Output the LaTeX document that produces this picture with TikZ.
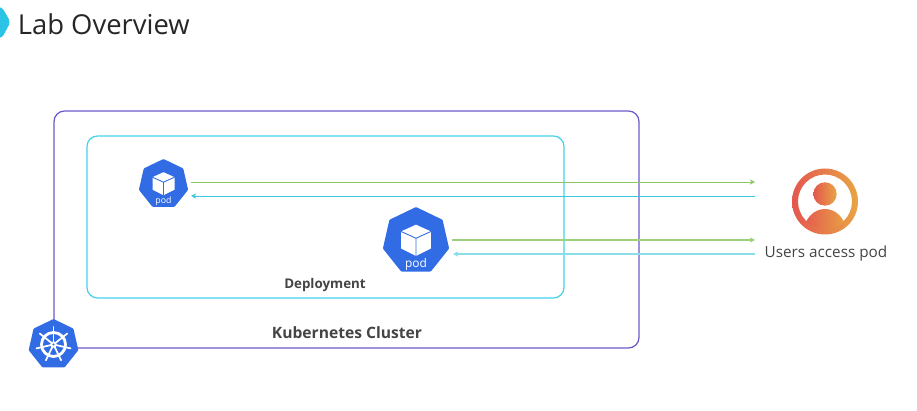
\documentclass[tikz,border=0pt]{standalone}
\usepackage{fontspec}
\setmainfont{Open Sans}
\usetikzlibrary{shapes.geometric, arrows.meta, positioning, calc}
\definecolor{kubeblue}{HTML}{326CE5}
\definecolor{clusterpurple}{HTML}{6E57C9}
\definecolor{deploycyan}{HTML}{45D3E8}
\definecolor{blobcyan}{HTML}{2BC4E6}
\definecolor{linegreen}{HTML}{8CC864}
\definecolor{linecyan}{HTML}{3FC6DC}
\definecolor{usered}{HTML}{E4574F}
\definecolor{userorange}{HTML}{E8A544}
\definecolor{labelgray}{HTML}{444444}
\tikzset{
    hepta/.style={regular polygon, regular polygon sides=7, fill=kubeblue, inner sep=0pt, outer sep=0pt, rounded corners=0.5pt},
    boxlabel/.style={font=\fontsize{7.6}{9}\selectfont\bfseries, text=labelgray},
    sendline/.style={-{Stealth[length=3pt,width=3pt]}, linegreen, line width=0.5pt},
    backline/.style={-{Stealth[length=3pt,width=3pt]}, linecyan, line width=0.5pt},
    podcube/.pic={
        \fill[white, line join=round] (0,-12) -- (11,-7) -- (11,5.5) -- (0,11) -- (-11,5.5) -- (-11,-7) -- cycle;
        \draw[kubeblue, line width=0.5pt] (-11,-7) -- (0,-2) -- (11,-7) (0,-2) -- (0,11);
        \node[text=white, font=\fontsize{5}{6}\selectfont, inner sep=0pt] at (0,17) {pod};
    },
    kubewheel/.pic={
        \draw[white, line width=1.6pt] (0,0) circle [radius=12];
        \fill[white] (0,0) circle [radius=3.2];
        \foreach \a in {-90,-38.57,...,260}
            \draw[white, line width=1pt, line cap=round] (\a:1.5) -- (\a:17.5);
        \fill[kubeblue] (0,0) circle [radius=1.2];
    }
}

\begin{document}
\begin{tikzpicture}[x=0.02cm, y=-0.02cm, >=stealth]
    \useasboundingbox (0,0) rectangle (917,411);

    % title
    \begin{scope}
        \clip (0,0) rectangle (917,411);
        \fill[blobcyan, rounded corners=2pt] (-12,7) -- (2,7) -- (10.5,22) -- (2,38) -- (-12,38) -- cycle;
    \end{scope}
    \node[anchor=west, inner sep=0pt, text=black!85, font=\fontsize{15.6}{18}\selectfont] (title) at (17.5,24) {Lab Overview};

    % boxes
    \draw[rounded corners=6pt, clusterpurple, line width=0.7pt] (54,111) rectangle (639,348);
    \draw[rounded corners=6pt, deploycyan, line width=0.7pt] (87,136) rectangle (564,298);
    \node[boxlabel] (deploy) at (325,285.5) {Deployment};
    \node[boxlabel, font=\fontsize{8.9}{10}\selectfont\bfseries] (cluster) at (347,333) {Kubernetes Cluster};

    % pods
    \node[hepta, minimum size=1.01cm] (podA) at (163.5,184.2) {};
    \pic at (podA) {podcube};
    \node[hepta, minimum size=1.36cm] (podB) at (416,241) {};
    \pic[scale=1.36, transform shape] at (podB) {podcube};
    \node[hepta, minimum size=1.02cm] (kube) at (53.5,344.5) {};
    \pic at (kube) {kubewheel};

    % user
    \coordinate (user) at (825,201.5);
    \shade[left color=usered, right color=userorange, even odd rule] (user) circle [radius=33] (user) circle [radius=27];
    \begin{scope}
        \clip (user) circle [radius=27.5];
        \shade[left color=usered, right color=userorange] (825,194) circle [radius=11.7];
        \shade[left color=usered, right color=userorange] (802,236) .. controls (804,218) and (814,209) .. (825,209) .. controls (836,209) and (846,218) .. (848,236) -- cycle;
    \end{scope}
    \node[font=\fontsize{8.7}{10}\selectfont, text=labelgray] (userlabel) at (826,253.5) {Users access pod};

    % connectors
    \coordinate (podAout) at (191,182);
    \coordinate (podAin) at (191,196);
    \coordinate (podBout) at (452,240);
    \coordinate (podBin) at (453,254);
    \coordinate (userAin) at (755,182);
    \coordinate (userAout) at (755,196);
    \coordinate (userBin) at (755,240);
    \coordinate (userBout) at (755,254);
    \draw[sendline] (podAout) -- (userAin);
    \draw[backline] (userAout) -- (podAin);
    \draw[sendline, line width=0.7pt, linegreen!85!white] (podBout) -- (userBin);
    \draw[backline, line width=0.7pt, linecyan!60!white] (userBout) -- (podBin);
\end{tikzpicture}
\end{document}
